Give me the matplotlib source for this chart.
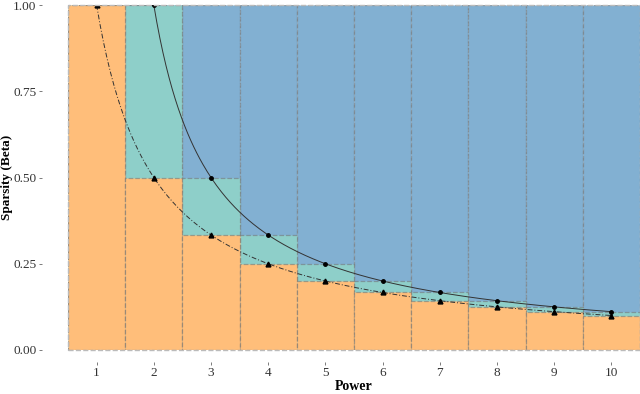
import numpy as np
import matplotlib.pyplot as plt
from matplotlib.patches import Rectangle

plt.rcParams['font.family'] = ['Liberation Serif', 'DejaVu Serif']

power = [1, 2, 3, 4, 5, 6, 7, 8, 9, 10]
beta_low = [1.0, 0.5, 0.333, 0.25, 0.2, 0.167, 0.143, 0.125, 0.111, 0.1]
beta_up = [1.0, 1.0, 0.5, 0.333, 0.25, 0.2, 0.167, 0.143, 0.125, 0.111]
y_ticks = [0.0, 0.25, 0.5, 0.75, 1.0]

c_orange = '#FFBE7A'
c_teal = '#8ECFC9'
c_blue = '#82B0D2'
edge = (0.45, 0.45, 0.45, 0.55)

fig = plt.figure(figsize=(6.4, 3.94), dpi=100)
ax = fig.add_axes([68 / 640, 1 - 350 / 394, 1 - 68 / 640, 345 / 394])

x = np.array(power)
# blue background columns (power >= 2)
ax.bar(x[1:], [1.0] * 9, width=1, color=c_blue, edgecolor=edge, linestyle='--', linewidth=0.9, zorder=1)
ax.bar(x, beta_up, width=1, color=c_teal, edgecolor=edge, linestyle='--', linewidth=0.9, zorder=2)
ax.bar(x, beta_low, width=1, color=c_orange, edgecolor=edge, linestyle='--', linewidth=0.9, zorder=3)

# curves
xs = np.linspace(1, 10, 300)
ax.plot(xs, 1 / xs, color='#333333', lw=0.7, ls=(0, (5, 2, 1, 2)), zorder=4)
ax.plot(x, beta_low, '^', color='black', ms=3.5, zorder=5)
xs2 = np.linspace(2, 10, 300)
ax.plot(xs2, 1 / (xs2 - 1), color='#333333', lw=0.7, zorder=4)
ax.plot(x[1:], beta_up[1:], 'o', color='black', ms=2.5, zorder=5)

ax.set_xlim(0.5, 10.5)
ax.set_ylim(0, 1.0)
ax.set_xticks(power)
ax.set_xticklabels([str(p) for p in power])
ax.set_yticks(y_ticks)
ax.set_yticklabels(['%.2f' % v for v in y_ticks])

# panel border (dashed), spines pushed outward so ticks sit by the labels
ax.add_patch(Rectangle((0, 0), 1, 1, transform=ax.transAxes, fill=False,
                       ls='--', lw=1.0, ec='#BBBBBB', zorder=6, clip_on=False))
for s in ax.spines.values():
    s.set_color('none')
ax.spines['left'].set_position(('outward', 19))
ax.spines['bottom'].set_position(('outward', 8.5))
ax.tick_params(axis='both', length=2.2, width=0.6, color='#666666', labelsize=9.5, labelcolor='#333333', pad=1.5)

ax.set_xlabel('Power', fontweight='bold', fontsize=10, labelpad=1)
ax.set_ylabel('Sparsity (Beta)', fontweight='bold', fontsize=9.5)
ax.yaxis.set_label_coords(-0.097, 0.5)

fig.savefig('out.png', dpi=100)
